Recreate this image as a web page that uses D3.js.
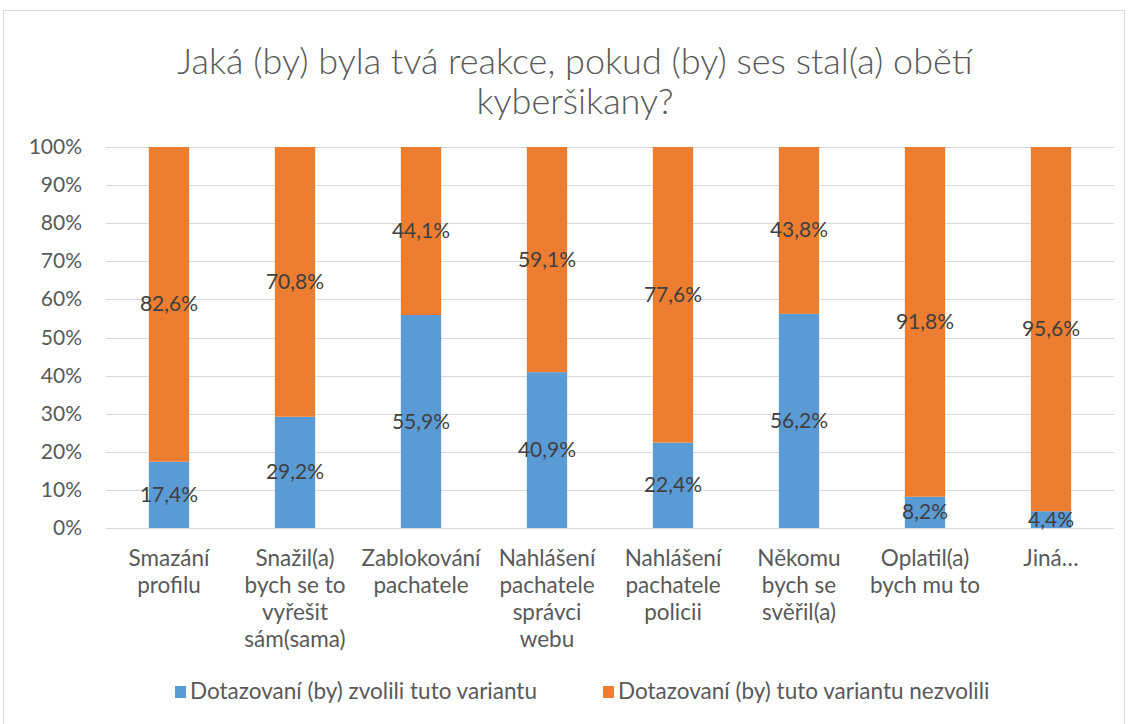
<!DOCTYPE html>
<html>
<head>
<meta charset="utf-8">
<script src="https://cdn.jsdelivr.net/npm/d3@7"></script>
<style>
  body { margin: 0; background: #fff; }
  svg { display: block; font-family: Lato, "Open Sans", sans-serif; }
</style>
</head>
<body>
<svg id="chart" width="1128" height="724"></svg>
<script>
(function () {
    "use strict";

    // chart data
    const categories = [
        ["Smazání", "profilu"],
        ["Snažil(a)", "bych se to", "vyřešit", "sám(sama)"],
        ["Zablokování", "pachatele"],
        ["Nahlášení", "pachatele", "správci", "webu"],
        ["Nahlášení", "pachatele", "policii"],
        ["Někomu", "bych se", "svěřil(a)"],
        ["Oplatil(a)", "bych mu to"],
        ["Jiná…"]
    ];
    const chose = [17.4, 29.2, 55.9, 40.9, 22.4, 56.2, 8.2, 4.4];
    const notChose = [82.6, 70.8, 44.1, 59.1, 77.6, 43.8, 91.8, 95.6];
    const seriesNames = ["Dotazovaní (by) zvolili tuto variantu", "Dotazovaní (by) tuto variantu nezvolili"];
    const seriesColors = ["#5B9BD5", "#ED7D31"];
    const yTicks = [0, 10, 20, 30, 40, 50, 60, 70, 80, 90, 100];
    const titleLines = ["Jaká (by) byla tvá reakce, pokud (by) ses stal(a) obětí", "kyberšikany?"];

    const svg = d3.select("#chart");
    const W = 1128;
    const FS = 21; // tick + data label size

    // outer chart border
    svg.append("rect")
        .attr("x", 3.5).attr("y", 10.5)
        .attr("width", W - 7).attr("height", 730)
        .attr("fill", "none")
        .attr("stroke", "#d9d9d9");

    // title
    svg.append("g").selectAll("text")
        .data(titleLines)
        .enter()
        .append("text")
        .attr("x", 575)
        .attr("y", (d, i) => 74 + i * 40)
        .attr("text-anchor", "middle")
        .attr("font-size", 36)
        .attr("font-weight", 300)
        .attr("fill", "#595959")
        .text((d) => d);

    const left = 106, right = 1114, top = 147, bottom = 528;

    const x = d3.scaleBand()
        .domain(d3.range(categories.length))
        .range([left, right])
        .paddingInner(0.68)
        .paddingOuter(0.34);

    const y = d3.scaleLinear()
        .domain([0, 100])
        .range([bottom, top]);

    // gridlines
    svg.append("g").selectAll("line")
        .data(yTicks)
        .enter()
        .append("line")
        .attr("x1", left).attr("x2", right)
        .attr("y1", (d) => Math.round(y(d)) + 0.5)
        .attr("y2", (d) => Math.round(y(d)) + 0.5)
        .attr("stroke", "#d9d9d9")
        .attr("stroke-width", 1);

    // y axis labels
    svg.append("g").selectAll("text")
        .data(yTicks)
        .enter()
        .append("text")
        .attr("x", 82)
        .attr("y", (d) => y(d) + 7)
        .attr("text-anchor", "end")
        .attr("font-size", FS)
        .attr("fill", "#595959")
        .text((d) => d + "%");

    // stacked bars
    const rows = categories.map((c, i) => ({ i: i, a: chose[i], b: notChose[i] }));
    const stack = d3.stack().keys(["a", "b"])(rows);

    const layers = svg.append("g").selectAll("g")
        .data(stack)
        .enter()
        .append("g")
        .attr("fill", (d, k) => seriesColors[k]);

    layers.selectAll("rect")
        .data((d) => d)
        .enter()
        .append("rect")
        .attr("x", (d) => x(d.data.i))
        .attr("y", (d) => y(d[1]))
        .attr("width", x.bandwidth())
        .attr("height", (d) => y(d[0]) - y(d[1]));

    // data labels
    layers.selectAll("text")
        .data((d) => d)
        .enter()
        .append("text")
        .attr("x", (d) => x(d.data.i) + x.bandwidth() / 2)
        .attr("y", (d) => y((d[0] + d[1]) / 2) + 7)
        .attr("text-anchor", "middle")
        .attr("font-size", FS)
        .attr("fill", "#404040")
        .text((d) => (d[1] - d[0]).toFixed(1).replace(".", ",") + "%");

    // x labels
    const xl = svg.append("g").selectAll("text")
        .data(categories)
        .enter()
        .append("text")
        .attr("text-anchor", "middle")
        .attr("font-size", 22.5)
        .attr("fill", "#595959");
    xl.selectAll("tspan")
        .data((d, i) => d.map((t) => ({ t: t, i: i })))
        .enter()
        .append("tspan")
        .attr("x", (d) => x(d.i) + x.bandwidth() / 2)
        .attr("y", (d, j) => 566 + j * 27)
        .text((d) => d.t);

    // legend
    const legendX = [175, 603];
    const lg = svg.append("g").selectAll("g")
        .data(seriesNames)
        .enter()
        .append("g")
        .attr("transform", (d, i) => `translate(${legendX[i]},0)`);
    lg.append("rect")
        .attr("x", 0).attr("y", 686)
        .attr("width", 11).attr("height", 12)
        .attr("fill", (d, i) => seriesColors[i]);
    lg.append("text")
        .attr("x", 15).attr("y", 699)
        .attr("font-size", 22.5)
        .attr("fill", "#595959")
        .text((d) => d);
})();
</script>
</body>
</html>
